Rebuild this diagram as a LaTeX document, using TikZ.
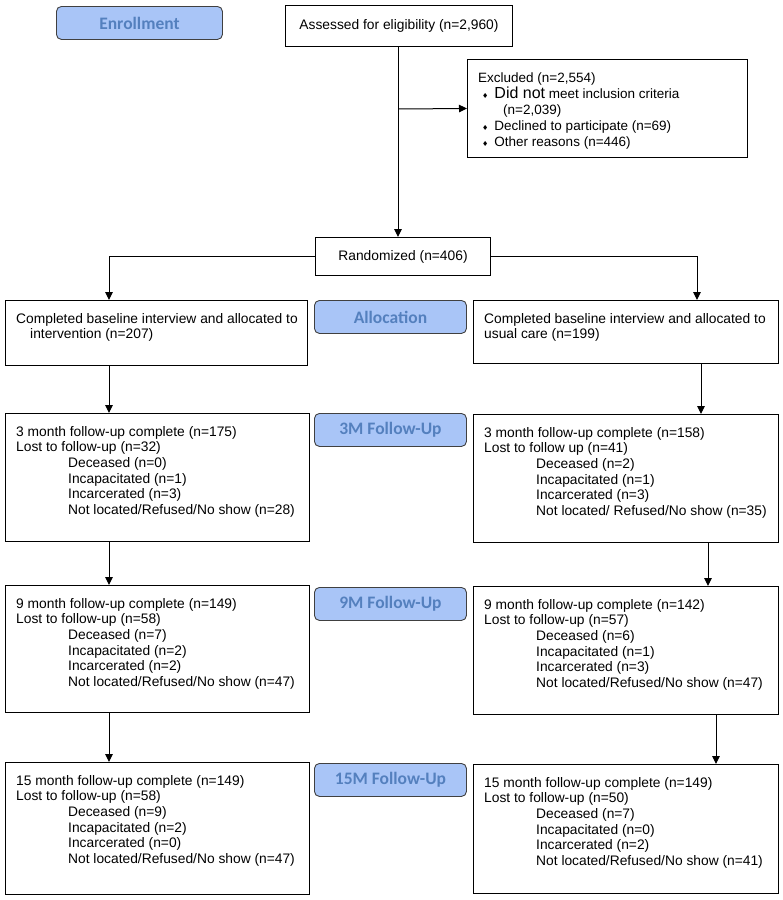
\documentclass[tikz,border=0pt]{standalone}
\usepackage{fontspec}
\setmainfont{Liberation Sans}
\newfontfamily\labelfont{Carlito}
\newfontfamily\symfont{DejaVu Sans}
\usetikzlibrary{arrows.meta,positioning}
\definecolor{stagefill}{RGB}{169,197,247}
\definecolor{stagetext}{RGB}{84,128,190}
\newcommand{\ind}{\hspace*{52pt}}
\newcommand{\dia}{\hspace*{4pt}{\symfont\fontsize{7}{8}\selectfont ♦}\hspace{6pt}}
\begin{document}
\begin{tikzpicture}[x=1pt,y=-1pt,
	box/.style={draw, line width=1pt, anchor=north west, inner sep=0pt},
	stage/.style={draw=black!75, line width=0.9pt, rounded corners=5pt, fill=stagefill, anchor=north west, inner sep=0pt, minimum height=33, font=\labelfont\bfseries\fontsize{17.5}{20}\selectfont, text=stagetext},
	txt/.style={anchor=north west, align=left, inner sep=0pt, font=\fontsize{13.8}{15.6}\selectfont},
	arr/.style={line width=1pt, -{Triangle[length=8pt,width=7.5pt]}}]
			\useasboundingbox (0,0) rectangle (783,900);

			% stage labels
			\node[stage, minimum width=166] (enrol) at (56,6) {Enrollment};
			\node[stage, minimum width=152] (alloc) at (314,300) {Allocation};
			\node[stage, minimum width=152] (fu3) at (314,413) {3M Follow-Up};
			\node[stage, minimum width=152] (fu9) at (314,587) {9M Follow-Up};
			\node[stage, minimum width=152] (fu15) at (314,763) {15M Follow-Up};

			% enrollment
			\node[box, minimum width=227, minimum height=41, font=\fontsize{13.8}{15.6}\selectfont] (assess) at (285,5) {Assessed for eligibility (n=2,960)};
			\node[box, minimum width=280, minimum height=98] (excl) at (467,59) {};
			\node[txt, font=\fontsize{13.5}{16}\selectfont] (excltxt) at ([shift={(11,14)}]excl.north west) {Excluded (n=2,554)\\
				\dia{\fontsize{16}{16}\selectfont Did not} meet inclusion criteria\\
				\hspace*{25pt}(n=2,039)\\
				\dia Declined to participate (n=69)\\
				\dia Other reasons (n=446)};
			\node[box, minimum width=175, minimum height=38, font=\fontsize{13.8}{15.6}\selectfont] (rand) at (315,237) {Randomized (n=406)};

			% allocation
			\node[box, minimum width=302, minimum height=65] (allocL) at (5,300) {};
			\node[txt] (allocLtxt) at ([shift={(11,13)}]allocL.north west) {Completed baseline interview and allocated to\\
				\hspace*{14pt}intervention (n=207)};
			\node[box, minimum width=305, minimum height=63] (allocR) at (473,300) {};
			\node[txt] (allocRtxt) at ([shift={(11,13)}]allocR.north west) {Completed baseline interview and allocated to\\
				usual care (n=199)};

			% 3 months
			\node[box, minimum width=304, minimum height=128] (m3L) at (5,413) {};
			\node[txt] (m3Ltxt) at ([shift={(11,13)}]m3L.north west) {3 month follow-up complete (n=175)\\
				Lost to follow-up (n=32)\\
				\ind Deceased (n=0)\\
				\ind Incapacitated (n=1)\\
				\ind Incarcerated (n=3)\\
				\ind Not located/Refused/No show (n=28)};
			\node[box, minimum width=305, minimum height=128] (m3R) at (473,414) {};
			\node[txt] (m3Rtxt) at ([shift={(11,13)}]m3R.north west) {3 month follow-up complete (n=158)\\
				Lost to follow up (n=41)\\
				\ind Deceased (n=2)\\
				\ind Incapacitated (n=1)\\
				\ind Incarcerated (n=3)\\
				\ind Not located/ Refused/No show (n=35)};

			% 9 months
			\node[box, minimum width=304, minimum height=127] (m9L) at (5,585) {};
			\node[txt] (m9Ltxt) at ([shift={(11,13)}]m9L.north west) {9 month follow-up complete (n=149)\\
				Lost to follow-up (n=58)\\
				\ind Deceased (n=7)\\
				\ind Incapacitated (n=2)\\
				\ind Incarcerated (n=2)\\
				\ind Not located/Refused/No show (n=47)};
			\node[box, minimum width=305, minimum height=128] (m9R) at (473,586) {};
			\node[txt] (m9Rtxt) at ([shift={(11,13)}]m9R.north west) {9 month follow-up complete (n=142)\\
				Lost to follow-up (n=57)\\
				\ind Deceased (n=6)\\
				\ind Incapacitated (n=1)\\
				\ind Incarcerated (n=3)\\
				\ind Not located/Refused/No show (n=47)};

			% 15 months
			\node[box, minimum width=304, minimum height=132] (m15L) at (5,762) {};
			\node[txt] (m15Ltxt) at ([shift={(11,13)}]m15L.north west) {15 month follow-up complete (n=149)\\
				Lost to follow-up (n=58)\\
				\ind Deceased (n=9)\\
				\ind Incapacitated (n=2)\\
				\ind Incarcerated (n=0)\\
				\ind Not located/Refused/No show (n=47)};
			\node[box, minimum width=305, minimum height=129] (m15R) at (473,764) {};
			\node[txt] (m15Rtxt) at ([shift={(11,13)}]m15R.north west) {15 month follow-up complete (n=149)\\
				Lost to follow-up (n=50)\\
				\ind Deceased (n=7)\\
				\ind Incapacitated (n=0)\\
				\ind Incarcerated (n=2)\\
				\ind Not located/Refused/No show (n=41)};

			% connectors
			\coordinate (colL) at (109,0);
			\coordinate (colR1) at (701,0);
			\coordinate (colR2) at (708,0);
			\coordinate (colR3) at (716,0);
			\draw[arr] (assess.south -| 398,0) -- (rand.north -| 398,0);
			\draw[arr] (assess.south -| 398,0) ++(0,62) -- (excl.west);
			\draw[arr] (rand.west) -| (colL |- allocL.north);
			\draw[arr] (rand.east) -| (697,0 |- allocR.north);
			\draw[arr] (colL |- allocL.south) -- (colL |- m3L.north);
			\draw[arr] (colL |- m3L.south) -- (colL |- m9L.north);
			\draw[arr] (colL |- m9L.south) -- (colL |- m15L.north);
			\draw[arr] (colR1 |- allocR.south) -- (colR1 |- m3R.north);
			\draw[arr] (colR2 |- m3R.south) -- (colR2 |- m9R.north);
			\draw[arr] (colR3 |- m9R.south) -- (colR3 |- m15R.north);
		\end{tikzpicture}
\end{document}
